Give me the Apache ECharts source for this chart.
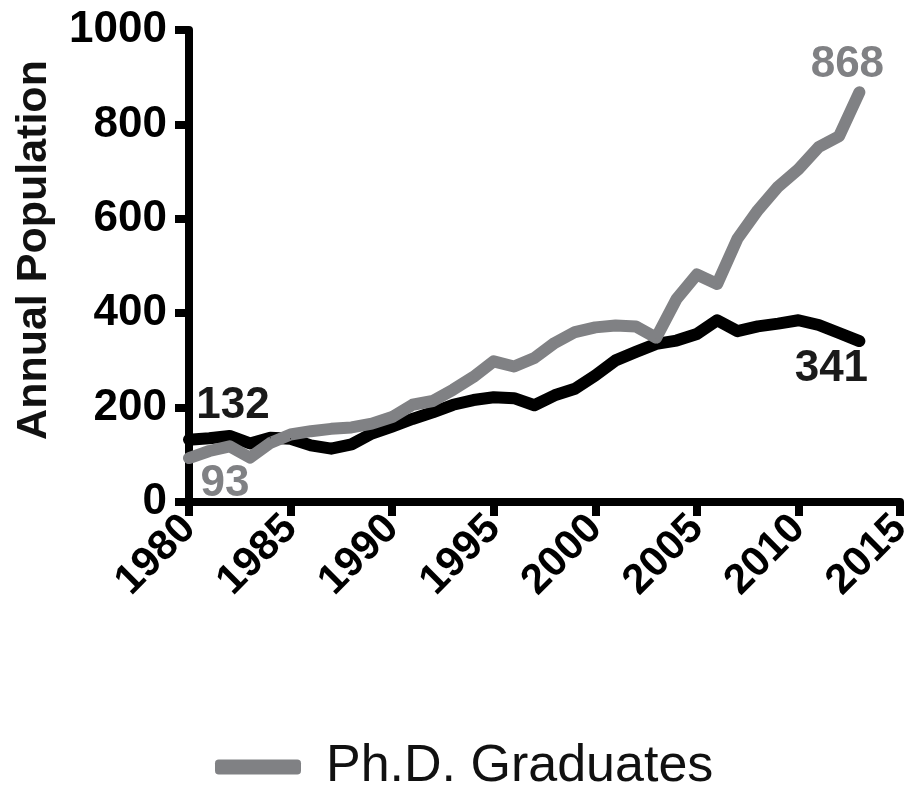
<!DOCTYPE html>
<html>
<head>
<meta charset="utf-8">
<title>Annual Population</title>
<script src="https://cdn.jsdelivr.net/npm/echarts@6/dist/echarts.min.js"></script>
<style>
  html, body { margin: 0; padding: 0; background: #fff; }
  #chart { width: 906px; height: 791px; }
</style>
</head>
<body>
<div id="chart"></div>
<script>
// data
const years = [1980, 1981, 1982, 1983, 1984, 1985, 1986, 1987, 1988, 1989,
  1990, 1991, 1992, 1993, 1994, 1995, 1996, 1997, 1998, 1999,
  2000, 2001, 2002, 2003, 2004, 2005, 2006, 2007, 2008, 2009,
  2010, 2011, 2012, 2013]
const phdGraduates = [93, 108, 118, 94, 125, 143, 150, 155, 158, 166,
  180, 206, 214, 238, 265, 298, 287, 305, 337, 360,
  370, 374, 372, 348, 430, 482, 462, 558, 618, 668,
  705, 752, 775, 868]
const blackSeries = [132, 135, 140, 124, 136, 134, 120, 113, 122, 145,
  160, 176, 190, 206, 216, 222, 220, 205, 226, 240,
  268, 300, 318, 335, 342, 356, 385, 362, 372, 378,
  385, 375, 358, 341]
const yTicks = [0, 200, 400, 600, 800, 1000]
const xTicks = [1980, 1985, 1990, 1995, 2000, 2005, 2010, 2015]

const FONT = 'Arial, "Liberation Sans", Helvetica, sans-serif'

// attach the first / last value labels
function buildData(values, color, firstLabel, lastLabel) {
  return values.map(function (v, i) {
    let item = { value: [years[i], v] }
    if (i === 0) item.label = Object.assign({ show: true, color: color }, firstLabel)
    if (i === values.length - 1) item.label = Object.assign({ show: true, color: color }, lastLabel)
    return item
  })
}

const chart = echarts.init(document.getElementById('chart'))

const labelBase = {
  formatter: function (p) { return p.value[1] },
  fontSize: 44,
  fontWeight: 'bold',
  fontFamily: FONT
}

chart.setOption({
  animation: false,
  grid: {
    left: 189,
    right: 6,
    top: 30,
    bottom: 289,
    containLabel: false,
    outerBoundsMode: 'none'
  },
  legend: {
    data: ['Ph.D. Graduates'],
    left: 210,
    top: 736,
    icon: 'roundRect',
    itemWidth: 86,
    itemHeight: 15,
    itemStyle: { color: '#808184' },
    textStyle: {
      fontSize: 52,
      fontFamily: FONT,
      color: '#111',
      padding: [0, 0, 0, 20]
    }
  },
  xAxis: {
    type: 'value',
    min: 1980,
    max: 2015,
    interval: 5,
    axisLine: { lineStyle: { color: '#000', width: 8 } },
    axisTick: { length: 14, lineStyle: { color: '#000', width: 8 } },
    splitLine: { show: false },
    axisLabel: {
      rotate: 45,
      margin: 20,
      fontSize: 42,
      fontWeight: 'bold',
      fontFamily: FONT,
      color: '#000',
      formatter: function (v) { return xTicks.indexOf(v) >= 0 ? String(v) : '' }
    }
  },
  yAxis: {
    type: 'value',
    min: 0,
    max: 1000,
    interval: 200,
    name: 'Annual Population',
    nameLocation: 'middle',
    nameGap: 133,
    nameTextStyle: {
      fontSize: 43,
      fontWeight: 'bold',
      fontFamily: FONT,
      color: '#111',
      padding: [0, 0, 0, 32]
    },
    axisLine: { show: true, lineStyle: { color: '#000', width: 8 } },
    axisTick: { show: true, length: 14, lineStyle: { color: '#000', width: 8 } },
    splitLine: { show: false },
    axisLabel: {
      margin: 22,
      fontSize: 44,
      fontWeight: 'bold',
      fontFamily: FONT,
      color: '#000',
      formatter: function (v) { return yTicks.indexOf(v) >= 0 ? String(v) : '' }
    }
  },
  series: [
    {
      name: 'Other',
      type: 'line',
      symbol: 'circle',
      symbolSize: 1,
      showSymbol: true,
      lineStyle: { color: '#000', width: 12, cap: 'round', join: 'round' },
      itemStyle: { color: '#000' },
      data: buildData(blackSeries, '#1a1a1a',
        Object.assign({}, labelBase, { position: 'top', offset: [44, -6] }),
        Object.assign({}, labelBase, { position: 'bottom', offset: [-28, 0] }))
    },
    {
      name: 'Ph.D. Graduates',
      type: 'line',
      symbol: 'circle',
      symbolSize: 1,
      showSymbol: true,
      lineStyle: { color: '#808184', width: 12, cap: 'round', join: 'round' },
      itemStyle: { color: '#808184' },
      data: buildData(phdGraduates, '#808184',
        Object.assign({}, labelBase, { position: 'bottom', offset: [36, -2] }),
        Object.assign({}, labelBase, { position: 'top', offset: [-12, 0] }))
    }
  ]
})
</script>
</body>
</html>
